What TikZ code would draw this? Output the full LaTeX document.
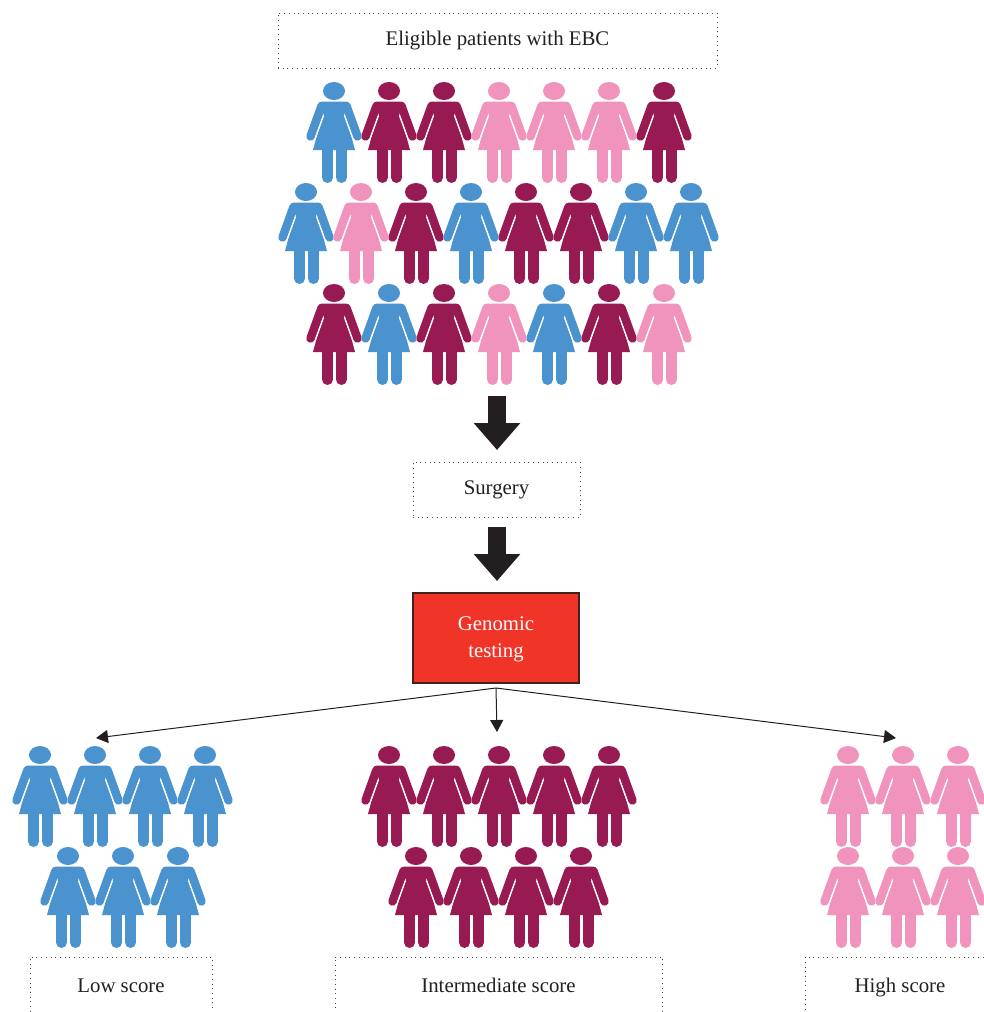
\documentclass[tikz,border=0pt]{standalone}
\usepackage{fontspec}
\setmainfont{Liberation Serif}
\usetikzlibrary{arrows.meta}
\definecolor{cblue}{HTML}{4B93CE}
\definecolor{cmaroon}{HTML}{971A53}
\definecolor{cpink}{HTML}{F094BE}
\definecolor{cred}{HTML}{F03428}
\definecolor{cink}{HTML}{231F20}
\tikzset{
  x=1pt,y=-1pt,
  every node/.style={font=\fontsize{20.8}{27}\selectfont,text=cink,outer sep=0pt,inner sep=0pt,align=center},
  dotbox/.style={draw=cink!85,line width=1pt,dash pattern=on 1pt off 3.7pt},
  scorebox/.style={dotbox,minimum height=57pt,text height=17pt,text depth=4pt},
  bigarrow/.style={draw=cink,line width=18pt,shorten >=12pt,-{Triangle[length=27pt,width=45pt]}},
  thinarrow/.style={draw=cink,line width=1pt,-{Triangle[length=12pt,width=13pt]}},
  pics/woman/.style={code={
    \fill[#1] (0,0) ellipse[x radius=11,y radius=9];
    \fill[#1] (-21,59) -- (-17.5,46) -- (-10,24) [rounded corners=4pt] -- (-16,10.5) -- (16,10.5) [sharp corners] -- (10,24) -- (17.5,46) -- (21,59) -- cycle;
    \draw[#1,line width=8.5pt,line cap=round] (-12.5,15) -- (-23.5,45.5);
    \draw[#1,line width=8.5pt,line cap=round] (12.5,15) -- (23.5,45.5);
    \draw[#1,line width=11pt,line cap=round] (-6.5,58) -- (-6.5,86.5);
    \draw[#1,line width=11pt,line cap=round] (7.5,58) -- (7.5,86.5);
    \draw[white,line width=1pt] (-10.5,25) -- (-18.4,46.5);
    \draw[white,line width=1pt] (10.5,25) -- (18.4,46.5);
  }}
}
\newcommand{\crowd}[2]{\foreach \xx/\cc in {#2} {\pic at (\xx,#1) {woman=\cc};}}
\begin{document}
\begin{tikzpicture}
\useasboundingbox (0,0) rectangle (984,1012);
\clip (0,0) rectangle (984,1012);
\fill[white] (0,0) rectangle (984,1012);
% crowd
\crowd{91}{334/cblue,389/cmaroon,444/cmaroon,499/cpink,554/cpink,609/cpink,664/cmaroon}
\crowd{192}{306/cblue,361/cpink,416/cmaroon,471/cblue,526/cmaroon,581/cmaroon,636/cblue,691/cblue}
\crowd{293}{334/cmaroon,389/cblue,444/cmaroon,499/cpink,554/cblue,609/cmaroon,664/cpink}
% results
\crowd{755}{40/cblue,95/cblue,150/cblue,205/cblue}
\crowd{856}{68/cblue,123/cblue,178/cblue}
\crowd{755}{389/cmaroon,444/cmaroon,499/cmaroon,554/cmaroon,609/cmaroon}
\crowd{856}{416/cmaroon,471/cmaroon,526/cmaroon,581/cmaroon}
\crowd{755}{848/cpink,903/cpink,958/cpink}
\crowd{856}{848/cpink,903/cpink,958/cpink}
% boxes
\node[dotbox,minimum width=439pt,minimum height=55pt] (elig) at (497.5,40.5) {Eligible patients with EBC};
\node[dotbox,minimum width=167pt,minimum height=55pt] (surg) at (496.5,489.5) {Surgery};
\node[draw=cink!85!cred,line width=1.3pt,fill=cred,text=white,minimum width=166pt,minimum height=90pt] (gen) at (496,638) {\rule{0pt}{16.5pt}Genomic\\testing};
\node[scorebox,minimum width=182pt] (low) at (121,985.5) {Low score};
\node[scorebox,minimum width=327pt] (mid) at (498.5,985.5) {Intermediate score};
\node[scorebox,minimum width=190pt] (high) at (900,985.5) {High score};
% connectors
\coordinate (crowdbottom) at (497,396);
\coordinate (surgout) at (497,527);
\coordinate (split) at (496,688);
\coordinate (lowtip) at (96,738);
\coordinate (midtip) at (497,732);
\coordinate (hightip) at (896,738);
\draw[bigarrow] (crowdbottom) -- (crowdbottom |- surg.north);
\draw[bigarrow] (surgout) -- (surgout |- gen.north);
\draw[thinarrow] (split) -- (lowtip);
\draw[thinarrow] (split) -- (midtip);
\draw[thinarrow] (split) -- (hightip);
\end{tikzpicture}
\end{document}
